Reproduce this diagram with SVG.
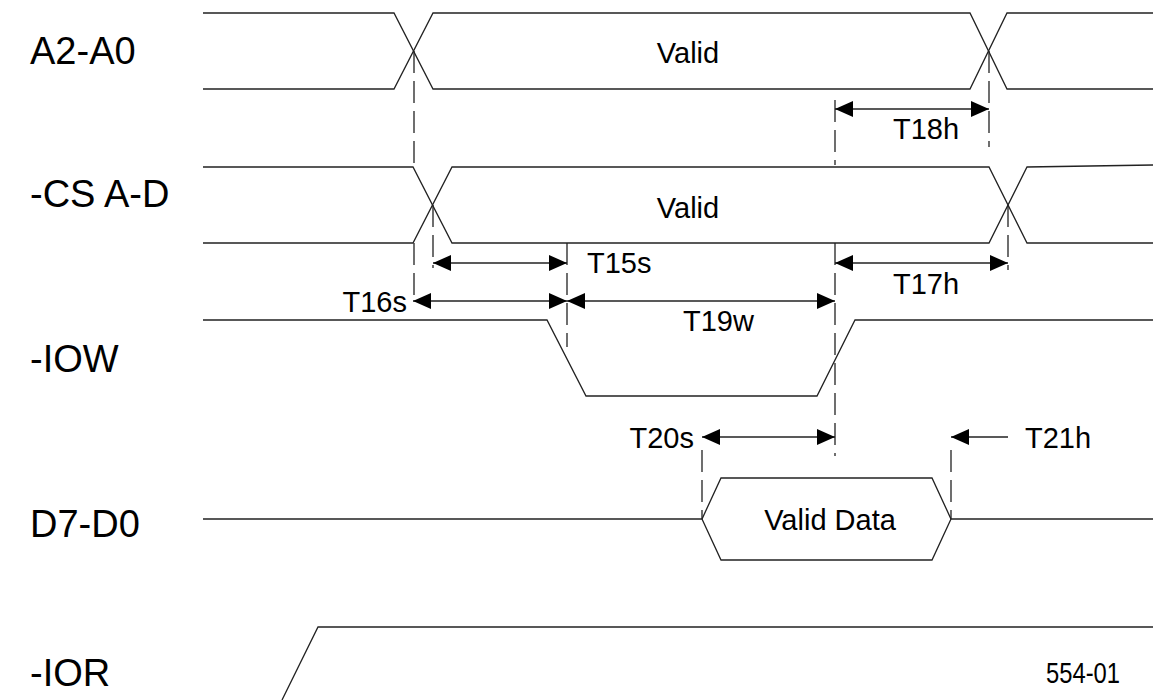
<svg xmlns="http://www.w3.org/2000/svg" width="1156" height="700" viewBox="0 0 1156 700">
<style>
.w{fill:none;stroke:#222;stroke-width:1.3}
.d{fill:none;stroke:#222;stroke-width:1.3;stroke-dasharray:22 8}
.a{fill:none;stroke:#222;stroke-width:1.3}
.lbl{font-family:"Liberation Sans",Arial,sans-serif;font-size:38px;fill:#000}
.t{font-family:"Liberation Sans",Arial,sans-serif;font-size:29px;fill:#000}
</style>
<defs>
<marker id="ah" viewBox="0 0 18 16" refX="18" refY="8" markerWidth="18" markerHeight="16" markerUnits="userSpaceOnUse" orient="auto-start-reverse">
<path d="M0,0 L18,8 L0,16 Z" fill="#000"/>
</marker>
</defs>
<rect width="1156" height="700" fill="#fff"/>

<g id="sig-a2a0">
<text class="lbl" x="30" y="64">A2-A0</text>
<path class="w" d="M203,13 H394 L433,89 H970 L1007,13 H1153"/>
<path class="w" d="M203,89 H394 L433,13 H970 L1007,89 H1153"/>
<text class="t" x="688" y="63" text-anchor="middle">Valid</text>
</g>

<g id="sig-cs">
<text class="lbl" x="30" y="207">-CS A-D</text>
<path class="w" d="M203,167 H413 L452,243 H989 L1027,167 L1153,165"/>
<path class="w" d="M203,243 H413 L452,167 H989 L1027,243 H1153"/>
<text class="t" x="688" y="218" text-anchor="middle">Valid</text>
</g>

<g id="sig-iow">
<text class="lbl" x="30" y="372">-IOW</text>
<path class="w" d="M203,320 H547 L586,396 H817 L855,320 H1153"/>
</g>

<g id="sig-d7d0">
<text class="lbl" x="30" y="537">D7-D0</text>
<path class="w" d="M203,519 H702 L721,478 H932 L951,519 H1153"/>
<path class="w" d="M702,519 L721,560 H932 L951,519"/>
<text class="t" x="830" y="530" text-anchor="middle">Valid Data</text>
</g>

<g id="sig-ior">
<text class="lbl" x="30" y="686">-IOR</text>
<path class="w" d="M282,700 L318,627 H1153"/>
</g>

<g id="connectors">
<path class="d" d="M414,51 V165"/>
<path class="d" d="M414,243 V300"/>
<path class="d" d="M433,205 V268"/>
<path class="d" d="M567,243 V347"/>
<path class="d" d="M835,100 V165"/>
<path class="d" d="M835,243 V456"/>
<path class="d" d="M989,51 V147"/>
<path class="d" d="M1008,205 V270"/>
<path class="d" d="M702,450 V519"/>
<path class="d" d="M951,450 V519"/>

<line class="a" x1="835" y1="109" x2="989" y2="109" marker-start="url(#ah)" marker-end="url(#ah)"/>
<line class="a" x1="433" y1="263" x2="567" y2="263" marker-start="url(#ah)" marker-end="url(#ah)"/>
<line class="a" x1="835" y1="263" x2="1008" y2="263" marker-start="url(#ah)" marker-end="url(#ah)"/>
<line class="a" x1="413" y1="301" x2="567" y2="301" marker-start="url(#ah)" marker-end="url(#ah)"/>
<line class="a" x1="567" y1="301" x2="835" y2="301" marker-start="url(#ah)" marker-end="url(#ah)"/>
<line class="a" x1="702" y1="437" x2="835" y2="437" marker-start="url(#ah)" marker-end="url(#ah)"/>
<line class="a" x1="1008" y1="437" x2="951" y2="437" marker-end="url(#ah)"/>
</g>

<g id="timing-labels">
<text class="t" x="893" y="139">T18h</text>
<text class="t" x="587" y="273">T15s</text>
<text class="t" x="893" y="294">T17h</text>
<text class="t" x="407" y="312" text-anchor="end">T16s</text>
<text class="t" x="683" y="331">T19w</text>
<text class="t" x="694" y="448" text-anchor="end">T20s</text>
<text class="t" x="1025" y="448">T21h</text>
<text class="t" x="1046" y="683" textLength="74" lengthAdjust="spacingAndGlyphs">554-01</text>
</g>
</svg>
